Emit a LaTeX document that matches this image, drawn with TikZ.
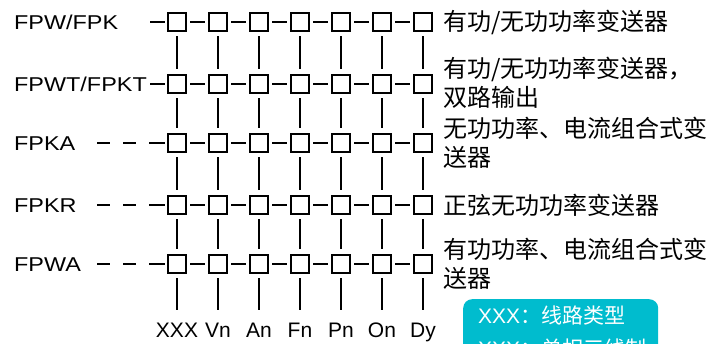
\documentclass[tikz,border=0pt]{standalone}
\usepackage{fontspec}
\setmainfont{Liberation Sans}
\newfontfamily\cjk{Noto Sans CJK SC}
\newfontfamily\widesans[FakeStretch=1.17]{Liberation Sans}
\usetikzlibrary{positioning}

\definecolor{keyteal}{RGB}{0,188,206}

\tikzset{
  cell/.style={draw, line width=1.8pt, minimum size=18.5pt, inner sep=0pt},
  wire/.style={line width=1.6pt, shorten <=3pt, shorten >=3pt},
  rise/.style={line width=1.6pt, shorten <=4pt, shorten >=5pt},
  lead/.style={line width=1.6pt, shorten >=2pt},
  gaps/.style={dash pattern=on 13pt off 13pt on 13pt off 13pt on 30pt off 1pt},
  model/.style={anchor=base west, inner sep=0pt, font=\widesans\fontsize{20}{24}\selectfont},
  note/.style={anchor=west, inner sep=0pt, align=left, font=\cjk\fontsize{24}{28.5}\selectfont},
  code/.style={anchor=base, inner sep=0pt, font=\fontsize{21}{25}\selectfont},
  legend/.style={anchor=north west, fill=keyteal, text=white, rounded corners=9pt,
    text width=165pt, align=left, inner xsep=15pt, inner ysep=7pt,
    font=\fontsize{21}{33}\selectfont}
}

\begin{document}
\begin{tikzpicture}[x=1pt, y=-1pt]
  \useasboundingbox (0, 0) rectangle (726, 343);
  \clip (0, 0) rectangle (726, 343);
  % Draw the grid of cells, one row per model
  \foreach \r/\y in {1/22, 2/84, 3/143, 4/205, 5/264}
    \foreach \c in {1,...,7}
      \node [cell] (b\r\c) at ({136+41*\c}, \y) {};
  % Join the cells along each row
  \foreach \r in {1,...,5}
    \foreach \c [count=\n from 2] in {1,...,6}
      \draw [wire] (b\r\c) -- (b\r\n);
  % Join the cells down each column
  \foreach \r [count=\n from 2] in {1,...,4}
    \foreach \c in {1,...,7}
      \draw [rise] (b\r\c) -- (b\n\c);
  % Free ends below the last row
  \foreach \c in {1,...,7} {
    \coordinate (e\c) at ({136+41*\c}, 310);
    \draw [rise, shorten >=0pt] (b5\c) -- (e\c);
  }
  % Lead-in lines, solid and dashed
  \coordinate (s1) at (150, 22);
  \coordinate (s2) at (150, 84);
  \coordinate (s3) at (97, 143);
  \coordinate (s4) at (97, 205);
  \coordinate (s5) at (97, 264);
  \draw [lead] (s1) -- (b11);
  \draw [lead] (s2) -- (b21);
  \draw [lead, gaps] (s3) -- (b31);
  \draw [lead, gaps] (s4) -- (b41);
  \draw [lead, gaps] (s5) -- (b51);
  % Add model labels
  \node [model] (m1) at (14, 29) {FPW/FPK};
  \node [model] (m2) at (14, 91) {FPWT/FPKT};
  \node [model] (m3) at (14, 150) {FPKA};
  \node [model] (m4) at (14, 212.5) {FPKR};
  \node [model] (m5) at (14, 271.5) {FPWA};
  % Add descriptions
  \node [note] (d1) at (443, 22) {有功/无功功率变送器};
  \node [note] (d2) at (443, 83) {有功/无功功率变送器，\\双路输出};
  \node [note] (d3) at (443, 143) {无功功率、电流组合式变\\送器};
  \node [note] (d4) at (443, 205) {正弦无功功率变送器};
  \node [note] (d5) at (443, 264) {有功功率、电流组合式变\\送器};
  % Add column labels
  \node [code] (t1) at (177, 337) {XXX};
  \node [code] (t2) at (218, 337) {Vn};
  \node [code] (t3) at (259, 337) {An};
  \node [code] (t4) at (300, 337) {Fn};
  \node [code] (t5) at (341, 337) {Pn};
  \node [code] (t6) at (382, 337) {On};
  \node [code] (t7) at (423, 337) {Dy};
  % Add key box
  \node [legend] (key) at (463, 299) {XXX{\cjk：线路类型}\\XXX{\cjk：单相三线制}};
\end{tikzpicture}
\end{document}
